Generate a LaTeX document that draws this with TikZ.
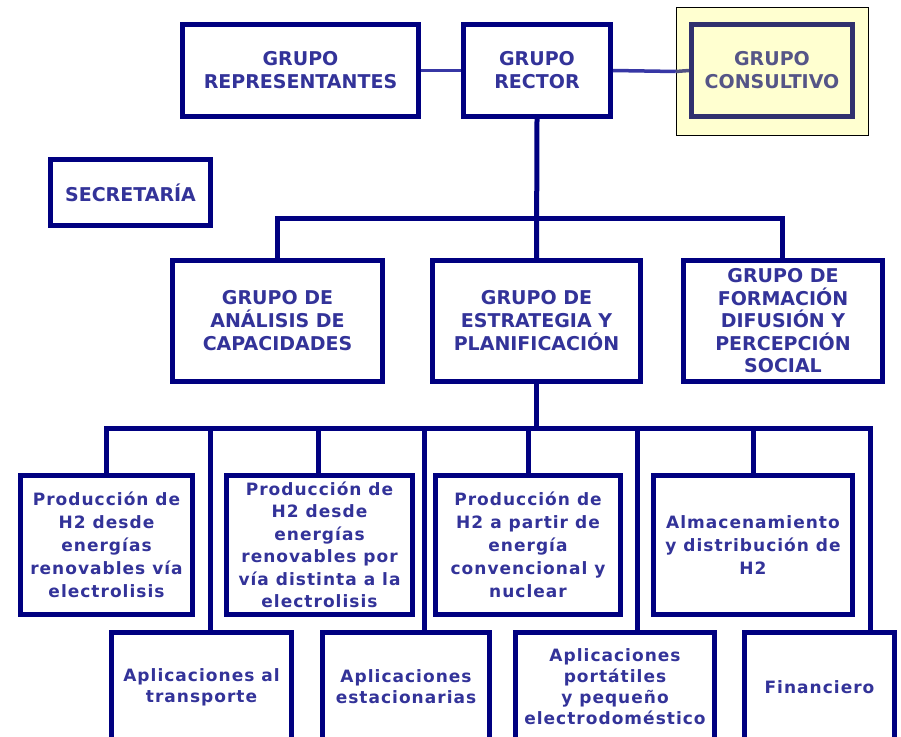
\documentclass[tikz,border=0pt]{standalone}
\usepackage{fontspec}
\newfontfamily\capsfont{DejaVu Sans}
\newfontfamily\lowfont[LetterSpace=6]{DejaVu Sans}
\definecolor{navy}{RGB}{0,0,128}
\definecolor{txt}{RGB}{51,51,153}
\definecolor{linkc}{RGB}{55,55,165}
\definecolor{cborder}{RGB}{48,48,110}
\definecolor{ctext}{RGB}{85,85,135}
\definecolor{cfill}{RGB}{255,255,208}
\definecolor{clink}{RGB}{80,80,130}
\begin{document}
\begin{tikzpicture}[x=1pt,y=-1pt,
  box/.style={draw=navy,line width=5pt,fill=white,align=center,inner sep=0pt,text=txt},
  capbox/.style={box,font=\capsfont\bfseries\fontsize{19}{23}\selectfont},
  lowbox/.style={box,font=\lowfont\bfseries\fontsize{17}{23}\selectfont},
  conn/.style={draw=navy,line width=5pt,line join=miter},
  toplink/.style={draw=linkc,line width=3.5pt}]
\useasboundingbox[fill=white] (0,0) rectangle (901,736);
% consultivo highlight
\node[draw=black,line width=1.5pt,fill=cfill,minimum width=192pt,minimum height=128pt,inner sep=0pt] (hl) at (772.5,71.5) {};
% top row
\node[capbox,minimum width=236pt,minimum height=92pt] (rep) at (300.5,70.5) {GRUPO\\REPRESENTANTES};
\node[capbox,minimum width=147pt,minimum height=92pt] (rector) at (537,70.5) {GRUPO\\RECTOR};
\draw[toplink] (rep.east) -- (rector.west);
\draw[toplink] (rector.east) -- (hl.west);
\draw[draw=clink,line width=3.5pt] (hl.west) -- (689,70.5);
\node[capbox,draw=cborder,fill=cfill,text=ctext,minimum width=161pt,minimum height=92pt] (cons) at (772,70.5) {GRUPO\\CONSULTIVO};
\node[capbox,minimum width=160pt,minimum height=66pt] (sec) at (130.5,192.5) {SECRETARÍA};
% middle row
\node[capbox,minimum width=210pt,minimum height=121pt] (anal) at (277.5,321) {GRUPO DE\\ANÁLISIS DE\\CAPACIDADES};
\node[capbox,minimum width=208pt,minimum height=121pt] (estr) at (536.5,321) {GRUPO DE\\ESTRATEGIA Y\\PLANIFICACIÓN};
\node[capbox,font=\capsfont\bfseries\fontsize{19}{22.5}\selectfont,minimum width=199pt,minimum height=121pt] (form) at (783,321) {GRUPO DE\\FORMACIÓN\\DIFUSIÓN Y\\PERCEPCIÓN\\SOCIAL};
% lower row
\node[lowbox,minimum width=172pt,minimum height=139pt] (b1) at (106.5,545) {Producción de\\H2 desde\\energías\\renovables vía\\electrolisis};
\node[lowbox,font=\lowfont\bfseries\fontsize{17}{22.5}\selectfont,minimum width=186pt,minimum height=139pt] (b2) at (319.5,545) {Producción de\\H2 desde\\energías\\renovables por\\vía distinta a la\\electrolisis};
\node[lowbox,minimum width=185pt,minimum height=139pt] (b3) at (528,545) {Producción de\\H2 a partir de\\energía\\convencional y\\nuclear};
\node[lowbox,minimum width=199pt,minimum height=139pt] (b4) at (753,545) {Almacenamiento\\y distribución de\\H2};
% bottom row
\node[lowbox,font=\lowfont\bfseries\fontsize{17}{21}\selectfont,minimum width=180pt,minimum height=109pt] (trans) at (201.5,687) {Aplicaciones al\\transporte};
\node[lowbox,font=\lowfont\bfseries\fontsize{17}{21}\selectfont,minimum width=167pt,minimum height=109pt] (esta) at (406,687) {Aplicaciones\\estacionarias};
\node[lowbox,font=\lowfont\bfseries\fontsize{17}{21}\selectfont,minimum width=199pt,minimum height=109pt] (port) at (615,687) {Aplicaciones\\portátiles\\y pequeño\\electrodoméstico};
\node[lowbox,minimum width=150pt,minimum height=109pt] (fin) at (819.5,687) {Financiero};
% connectors top
\coordinate (T1) at (277,218);
\coordinate (T3) at (782,218);
\draw[conn] (rector.south) -- (estr.north);
\draw[conn] (T1 |- anal.north) -- (T1) -- (T3) -- (T3 |- form.north);
% connectors bottom
\coordinate (L1) at (106,428);
\coordinate (L2) at (210,428);
\coordinate (L3) at (318,428);
\coordinate (L4) at (424,428);
\coordinate (L5) at (528,428);
\coordinate (L6) at (637,428);
\coordinate (L7) at (753,428);
\coordinate (L8) at (870,428);
\draw[conn] (estr.south) -- (estr.south |- L1);
\draw[conn] (L1 |- b1.north) -- (L1) -- (L8) -- (L8 |- fin.north);
\draw[conn] (L2) -- (L2 |- trans.north);
\draw[conn] (L3) -- (L3 |- b2.north);
\draw[conn] (L4) -- (L4 |- esta.north);
\draw[conn] (L5) -- (L5 |- b3.north);
\draw[conn] (L6) -- (L6 |- port.north);
\draw[conn] (L7) -- (L7 |- b4.north);
\end{tikzpicture}
\end{document}
